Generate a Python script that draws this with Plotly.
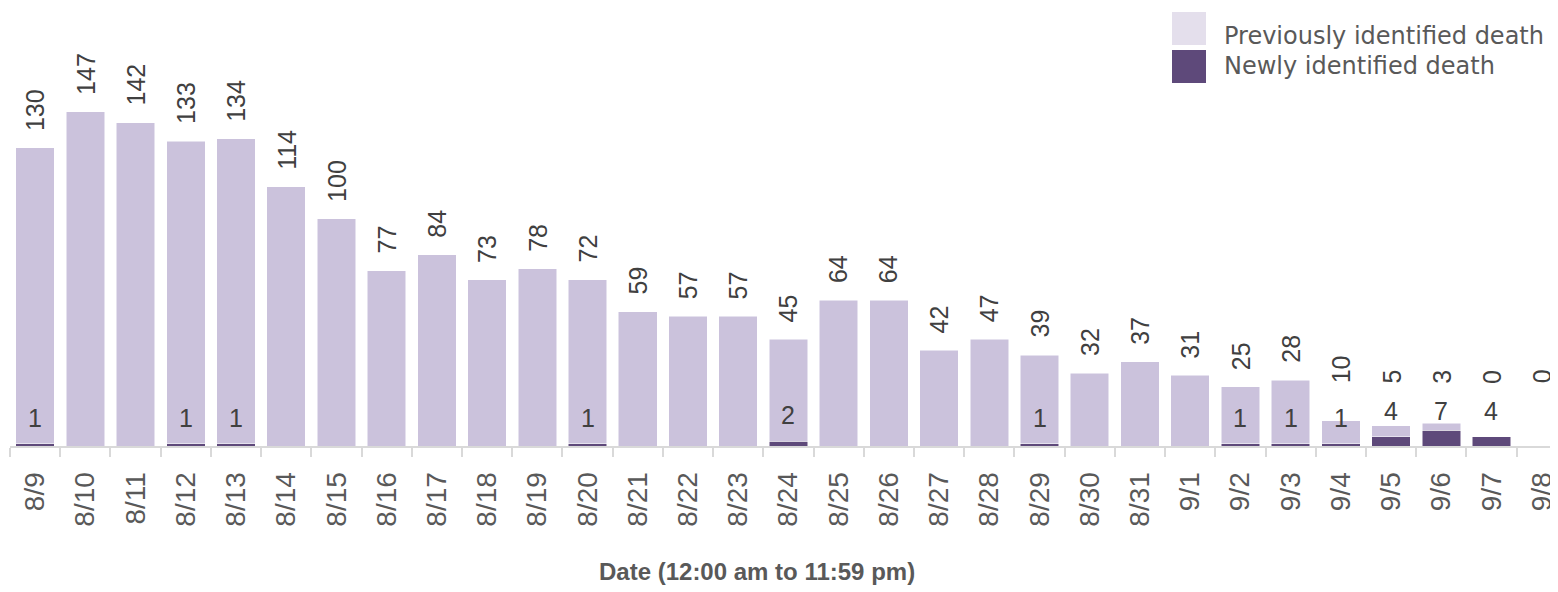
import plotly.graph_objects as go

dates = ["8/9", "8/10", "8/11", "8/12", "8/13", "8/14", "8/15", "8/16", "8/17", "8/18",
         "8/19", "8/20", "8/21", "8/22", "8/23", "8/24", "8/25", "8/26", "8/27", "8/28",
         "8/29", "8/30", "8/31", "9/1", "9/2", "9/3", "9/4", "9/5", "9/6", "9/7", "9/8"]
previously = [130, 147, 142, 133, 134, 114, 100, 77, 84, 73, 78, 72, 59, 57, 57, 45,
              64, 64, 42, 47, 39, 32, 37, 31, 25, 28, 10, 5, 3, 0, 0]
newly = [1, 0, 0, 1, 1, 0, 0, 0, 0, 0, 0, 1, 0, 0, 0, 2,
         0, 0, 0, 0, 1, 0, 0, 0, 1, 1, 1, 4, 7, 4, 0]

series_names = ["Previously identified death", "Newly identified death"]
x_title = "Date (12:00 am to 11:59 pm)"

LIGHT = "#cbc2dc"
LIGHT_LEG = "#e4dfec"
DARK = "#5e497a"
OFF = 8  # page body margin
W, H = 1558 - OFF, 592 - OFF
ML, MR, MT, MB = 2, 0, 0, 146
PX_PER_UNIT = 2.275
PLOT_W = W - ML - MR
PLOT_H = H - MT - MB
CAT_W = 50.22

fig = go.Figure()
fig.add_trace(go.Bar(x=dates, y=newly, name=series_names[1], marker_color=DARK,
                     marker_line=dict(color="white", width=0.5), showlegend=False))
fig.add_trace(go.Bar(x=dates, y=previously, name=series_names[0], marker_color=LIGHT,
                     marker_line=dict(color="white", width=0.5), showlegend=False))

annotations = []
label_font = dict(family="Liberation Sans", size=25, color="#404040")
for d, p, n in zip(dates, previously, newly):
    total = p + n
    annotations.append(dict(x=d, y=max(total, 20), xref="x", yref="y", text=str(p),
                            textangle=-90, showarrow=False, yanchor="bottom",
                            xanchor="center", yshift=15, font=label_font))
    if n > 0:
        annotations.append(dict(x=d, y=min(n, 4), xref="x", yref="y", text=str(n),
                                showarrow=False, yanchor="bottom", xanchor="center",
                                yshift=10, font=label_font))


def px_x(px):
    return (px - OFF - ML) / PLOT_W


def px_y(py):
    return (MT + PLOT_H - (py - OFF)) / PLOT_H


# manual legend
shapes = []
legend_items = [(series_names[0], LIGHT_LEG, 12, 45, 36), (series_names[1], DARK, 50, 83, 66)]
for name, col, y0, y1, ty in legend_items:
    shapes.append(dict(type="rect", xref="paper", yref="paper",
                       x0=px_x(1172), x1=px_x(1206), y0=px_y(y1), y1=px_y(y0),
                       fillcolor=col, line=dict(width=0)))
    annotations.append(dict(x=px_x(1222), y=px_y(ty), xref="paper", yref="paper",
                            text=name, showarrow=False, xanchor="left", yanchor="middle",
                            font=dict(family="DejaVu Sans", size=24, color="#595959")))

# x-axis title
annotations.append(dict(x=px_x(757), y=px_y(571), xref="paper", yref="paper",
                        text="<b>" + x_title + "</b>", showarrow=False,
                        xanchor="center", yanchor="middle",
                        font=dict(family="Liberation Sans", size=24, color="#595959")))

fig.update_layout(
    width=W, height=H,
    margin=dict(l=ML, r=MR, t=MT, b=MB, autoexpand=False),
    barmode="stack",
    bargap=0.233,
    plot_bgcolor="white", paper_bgcolor="white",
    annotations=annotations,
    shapes=shapes,
    showlegend=False,
    xaxis=dict(
        type="category",
        automargin=False,
        range=[-0.5, -0.5 + PLOT_W / CAT_W],
        showline=True, linecolor="#d9d9d9", linewidth=2,
        ticks="outside", tickson="boundaries", ticklen=9, tickcolor="#d9d9d9", tickwidth=2,
        tickangle=-90, ticklabelstandoff=13,
        tickfont=dict(family="Liberation Sans", size=28, color="#595959"),
        showgrid=False, zeroline=False,
    ),
    yaxis=dict(range=[0, PLOT_H / PX_PER_UNIT], visible=False, showgrid=False,
               zeroline=False, automargin=False),
)

fig.write_html("out.html")
